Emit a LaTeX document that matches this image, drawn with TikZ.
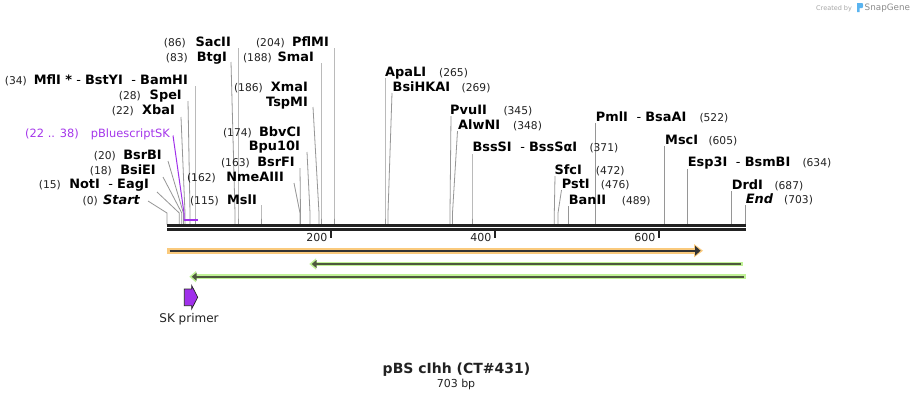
\documentclass[tikz,border=0pt]{standalone}
\usepackage{fontspec}
\setmainfont{DejaVu Sans}
\definecolor{barcol}{RGB}{34,34,34}
\definecolor{cutcol}{RGB}{150,150,150}
\definecolor{orangeF}{RGB}{250,202,125}
\definecolor{orangeD}{RGB}{51,51,51}
\definecolor{greenF}{RGB}{192,242,150}
\definecolor{greenD}{RGB}{78,88,62}
\definecolor{purpF}{RGB}{160,48,235}
\definecolor{purpT}{RGB}{165,55,235}
\definecolor{sgblue}{RGB}{90,180,240}
\tikzset{
  enztxt/.style={inner sep=0pt, font=\fontsize{12.9}{14}\selectfont\bfseries},
  numtxt/.style={inner sep=0pt, font=\fontsize{10.7}{12}\selectfont, text=barcol},
  cutline/.style={draw=cutcol, line width=0.8pt},
}
\newcommand{\LeftLab}[6]{%
  \node[numtxt, anchor=base east] (#1n) at (#3,#2) {(#4)};
  \node[enztxt, anchor=base east] (#1) at (#5,#2) {#6};}
\newcommand{\LeftName}[4]{%
  \node[enztxt, anchor=base east] (#1) at (#3,#2) {#4};}
\newcommand{\RightLab}[6]{%
  \node[enztxt, anchor=base west] (#1) at (#3,#2) {#4};
  \node[numtxt, anchor=base west] (#1n) at (#5,#2) {(#6)};}
\newcommand{\CutLine}[4]{%
  \coordinate (#1s) at (#2,#3);
  \coordinate (#1b) at (#4,213);
  \coordinate (#1e) at (#4,224.5);
  \draw[cutline] (#1s) -- (#1b) -- (#1e);}
\newcommand{\sepd}{{\mdseries\ -\ }}
\begin{document}
\begin{tikzpicture}[x=1pt,y=-1pt]
\useasboundingbox (0,0) rectangle (913,400);
\fill[white] (0,0) rectangle (913,400);

% ---- cut lines (drawn first) ----
\CutLine{sac}{238}{48}{238}
\CutLine{btg}{231}{62}{235}
\CutLine{pfl}{334}{48}{334}
\CutLine{sma}{321}{63}{321}
\CutLine{tsp}{313}{107}{319}
\CutLine{bpu}{307}{152}{310}
\CutLine{bsrf}{300}{168}{300.5}
\CutLine{nme}{294}{183}{300}
\CutLine{msl}{261}{205}{261}
\CutLine{mfl}{195}{86}{195}
\CutLine{spe}{188}{101}{190}
\CutLine{xba}{181}{117}{185}
\CutLine{bsrb}{168}{161}{183.4}
\CutLine{bsie}{163}{177}{181.8}
\CutLine{not}{157}{192}{179.3}
\CutLine{start}{148}{201}{167}
\CutLine{apa}{385}{78}{385}
\CutLine{bsih}{392}{93}{388}
\CutLine{pvu}{451}{116}{450}
\CutLine{alw}{457.5}{131}{452.5}
\CutLine{bsss}{472}{154}{472}
\CutLine{sfc}{555}{176}{554.3}
\CutLine{pst}{561.5}{190}{558}
\CutLine{ban}{568.5}{206}{568.5}
\CutLine{pml}{595.5}{123}{595.5}
\CutLine{msc}{664.5}{146}{664.5}
\CutLine{esp}{687.5}{169}{687.5}
\CutLine{drd}{731.5}{191}{731.5}
\CutLine{endc}{745.5}{205}{745.5}

% ---- left labels ----
\LeftLab{sacii}{46.6}{186}{86}{231}{SacII}
\LeftLab{btgi}{61}{188}{83}{227}{BtgI}
\LeftLab{pflmi}{46.6}{285}{204}{329}{PflMI}
\LeftLab{smai}{61}{272}{188}{314}{SmaI}
\LeftLab{xmai}{91.5}{263}{186}{308}{XmaI}
\LeftName{tspmi}{106}{308}{TspMI}
\LeftLab{bbvci}{136.5}{252}{174}{301}{BbvCI}
\LeftName{bpu10i}{150.5}{300}{Bpu10I}
\LeftLab{bsrfi}{166}{250}{163}{295}{BsrFI}
\LeftLab{nmeaiii}{181.5}{216}{162}{284}{NmeAIII}
\LeftLab{msli}{204.3}{219}{115}{257}{MslI}
\LeftLab{mfli}{84.3}{27}{34}{188}{MflI *\sepd BstYI\ \sepd BamHI}
\LeftLab{spei}{99.3}{141}{28}{182}{SpeI}
\LeftLab{xbai}{114.3}{134}{22}{175}{XbaI}
\LeftLab{bsrbi}{159.3}{116}{20}{162}{BsrBI}
\LeftLab{bsiei}{174.3}{112}{18}{156}{BsiEI}
\LeftLab{noti}{188.6}{61}{15}{149}{NotI\ \sepd EagI}
\LeftLab{startl}{204.3}{98}{0}{140}{\itshape Start}

% ---- pBluescriptSK feature label ----
\node[inner sep=0pt, anchor=base east, font=\fontsize{11.4}{13}\selectfont, text=purpT] (pbsn) at (79,137.5) {(22 .. 38)};
\node[inner sep=0pt, anchor=base east, font=\fontsize{11.4}{13}\selectfont, text=purpT] (pbs) at (170,137.5) {pBluescriptSK};
\coordinate (pbsA) at (173,135.5);
\coordinate (pbsB) at (184,213);
\coordinate (pbsC) at (184,220);
\coordinate (pbsD) at (198,220);
\draw[purpF, line width=1pt] (pbsA) -- (pbsB) -- (pbsC);
\draw[purpF, line width=2pt] (pbsC) -- (pbsD);

% ---- right labels ----
\RightLab{apali}{76}{385}{ApaLI}{439}{265}
\RightLab{bsihkai}{91.6}{392.5}{BsiHKAI}{461.5}{269}
\RightLab{pvuii}{114.3}{450}{PvuII}{503.3}{345}
\RightLab{alwni}{129}{458}{AlwNI}{513}{348}
\RightLab{bsssi}{151.6}{472.3}{BssSI\ \sepd BssSαI}{589.3}{371}
\RightLab{sfci}{174.3}{554.3}{SfcI}{595.7}{472}
\RightLab{psti}{188.3}{561.7}{PstI}{600.7}{476}
\RightLab{banii}{204.3}{568.7}{BanII}{621.7}{489}
\RightLab{pmli}{121}{595.7}{PmlI\ \sepd BsaAI}{699.3}{522}
\RightLab{msci}{144.3}{665}{MscI}{708.3}{605}
\RightLab{esp3i}{166}{687.7}{Esp3I\ \sepd BsmBI}{802.3}{634}
\RightLab{drdi}{189.3}{731.7}{DrdI}{774.3}{687}
\RightLab{endl}{203.6}{745.7}{\itshape End}{784}{703}

% ---- sequence bar ----
\coordinate (barTL) at (167,225.6);
\coordinate (barTR) at (745.7,225.6);
\coordinate (barBL) at (167,229.6);
\coordinate (barBR) at (745.7,229.6);
\draw[barcol, line width=3pt] (barTL) -- (barTR);
\draw[barcol, line width=3pt] (barBL) -- (barBR);
\foreach \tx/\tl in {331/200, 495/400, 659/600}{
  \draw[barcol, line width=2pt] (\tx,230) -- (\tx,238);
  \node[inner sep=0pt, anchor=base east, font=\fontsize{11}{13}\selectfont, text=barcol] (tick\tl) at (\tx-3.5,241.5) {\tl};
}

% ---- orange feature ----
\coordinate (orL) at (167,250.7);
\coordinate (orR) at (696,250.7);
\draw[orangeF, line width=6pt] (orL) -- (orR);
\fill[orangeF] (694,244) -- (703,250.7) -- (694,257.4) -- cycle;
\draw[orangeD, line width=1.6pt] (169.5,250.7) -- (696,250.7);
\fill[orangeD] (695,245.7) -- (700.5,250.7) -- (695,255.7) -- cycle;

% ---- green features ----
\coordinate (g1L) at (309.3,264);
\coordinate (g1R) at (742.7,264);
\draw[greenF, line width=4.8pt] (315,264) -- (g1R);
\fill[greenF] (g1L) -- (316,258.3) -- (316,269.7) -- cycle;
\draw[greenD, line width=1.8pt] (315,264) -- (740.5,264);
\fill[greenD] (311.7,264) -- (316.5,260) -- (316.5,268) -- cycle;

\coordinate (g2L) at (189.3,276.7);
\coordinate (g2R) at (745.7,276.7);
\draw[greenF, line width=4.8pt] (195,276.7) -- (g2R);
\fill[greenF] (g2L) -- (196,271) -- (196,282.4) -- cycle;
\draw[greenD, line width=1.8pt] (195,276.7) -- (743.5,276.7);
\fill[greenD] (191.7,276.7) -- (196.5,272.7) -- (196.5,280.7) -- cycle;

% ---- SK primer ----
\draw[fill=purpF, draw=black!85, line width=0.7pt]
  (184.3,289) -- (191.7,289) -- (191.7,285.5) -- (197.7,297.2) -- (191.7,309) -- (191.7,305.7) -- (184.3,305.7) -- cycle;
\node[inner sep=0pt, font=\fontsize{12}{14}\selectfont, text=barcol] (skp) at (189,319) {SK primer};

% ---- title ----
\node[inner sep=0pt, font=\fontsize{14}{16}\selectfont\bfseries, text=barcol] (title) at (456.5,369.5) {pBS cIhh (CT\#431)};
\node[inner sep=0pt, font=\fontsize{11}{13}\selectfont, text=barcol] (bp) at (456,384) {703 bp};

% ---- credit ----
\node[inner sep=0pt, anchor=base west, font=\fontsize{6.5}{8}\selectfont, text=black!35] (cred) at (816,10) {Created by};
\fill[sgblue] (857,3) -- (862,3) .. controls (863.5,3) and (863.5,8) .. (862,8) -- (859.5,8) -- (859.5,12) -- (857,12) -- cycle;
\node[inner sep=0pt, anchor=base west, font=\fontsize{8.8}{10}\selectfont, text=black!45] (sgname) at (864.5,10.8) {SnapGene};
\end{tikzpicture}
\end{document}
